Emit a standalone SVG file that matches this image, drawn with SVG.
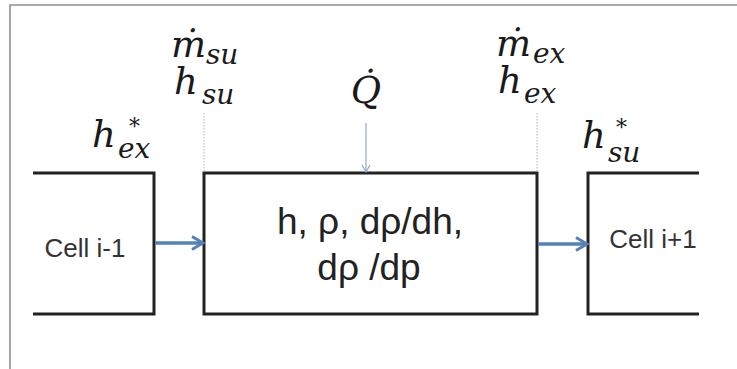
<svg xmlns="http://www.w3.org/2000/svg" width="737" height="369" viewBox="0 0 737 369">
<style>
.frame{fill:none;stroke:#8f8f8f;stroke-width:1.6}
.cell{fill:none;stroke:#222;stroke-width:3;stroke-linejoin:miter}
.box{fill:#fff;stroke:#222;stroke-width:3}
.flow{fill:none;stroke:#5581b8;stroke-width:3.5}
.heat{fill:none;stroke:#8eaacb;stroke-width:1.2}
.guide{fill:none;stroke:#aab6c4;stroke-width:1;stroke-dasharray:1.5 1.5}
.lbl{font-family:"Liberation Sans",Arial,sans-serif;fill:#333}
.big{font-family:"Liberation Sans",Arial,sans-serif;fill:#222;font-size:37px}
.m{font-family:"DejaVu Serif","Liberation Serif",serif;font-style:italic;fill:#1a1a1a;font-size:37px}
.s1{font-size:28px}
.s2{font-size:22px}
</style>
<defs>
<marker id="ab" viewBox="0 0 16 16" refX="14" refY="8" markerWidth="16" markerHeight="16" markerUnits="userSpaceOnUse" orient="auto">
<path d="M3,1.5 L14,8 L3,14.5" fill="none" stroke="#5581b8" stroke-width="3"/>
</marker>
<marker id="aq" viewBox="0 0 10 10" refX="9" refY="5" markerWidth="10" markerHeight="10" markerUnits="userSpaceOnUse" orient="auto">
<path d="M2,1 L9,5 L2,9" fill="none" stroke="#8eaacb" stroke-width="1.2"/>
</marker>
</defs>
<rect x="0" y="0" width="737" height="369" fill="#fff"/>
<path class="frame" d="M10,369 V5 H737"/>

<g id="cell-prev">
<path class="cell" d="M33,173 H154 V314 H33"/>
<text class="lbl" x="85" y="257" font-size="26" text-anchor="middle">Cell i-1</text>
</g>

<g id="cell-i">
<rect class="box" x="204" y="173" width="333" height="141"/>
<text class="big" x="370" y="234" text-anchor="middle">h, ρ, dρ/dh,</text>
<text class="big" x="369" y="280" text-anchor="middle">dρ /dp</text>
</g>

<g id="cell-next">
<path class="cell" d="M699,173 H588 V314 H699"/>
<text class="lbl" x="653" y="248" font-size="26" text-anchor="middle">Cell i+1</text>
</g>

<g id="connectors">
<line class="flow" x1="155" y1="243" x2="203" y2="243" marker-end="url(#ab)"/>
<line class="flow" x1="538" y1="244" x2="587" y2="244" marker-end="url(#ab)"/>
<line class="heat" x1="366" y1="123" x2="366" y2="172" marker-end="url(#aq)"/>
<line class="guide" x1="204" y1="113" x2="204" y2="172"/>
<line class="guide" x1="537" y1="113" x2="537" y2="172"/>
</g>

<g id="labels">
<text class="m"><tspan x="171" y="57">ṁ</tspan><tspan class="s1" x="206" y="64">su</tspan></text>
<text class="m"><tspan x="174" y="94">h</tspan><tspan class="s1" x="202" y="104">su</tspan></text>

<text class="m"><tspan x="496" y="56">ṁ</tspan><tspan class="s1" x="533" y="63">ex</tspan></text>
<text class="m"><tspan x="498" y="93">h</tspan><tspan class="s1" x="524" y="103">ex</tspan></text>

<text class="m" x="366" y="103" text-anchor="middle">Q̇</text>

<text class="m"><tspan x="92" y="147">h</tspan><tspan class="s2" x="129" y="134">*</tspan><tspan class="s1" x="118" y="158">ex</tspan></text>

<text class="m"><tspan x="582" y="148">h</tspan><tspan class="s2" x="616" y="135">*</tspan><tspan class="s1" x="608" y="162">su</tspan></text>
</g>
</svg>
